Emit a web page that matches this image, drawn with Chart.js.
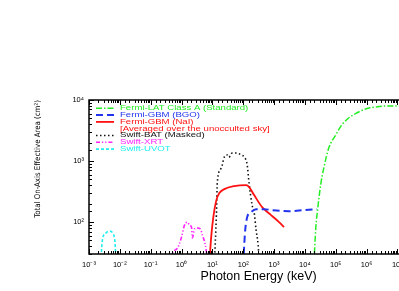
<!DOCTYPE html>
<html lang="en">
<head>
<meta charset="UTF-8">
<title>On-Axis Effective Area</title>
<script src="https://cdn.jsdelivr.net/npm/chart.js"></script>
<style>
  html, body { margin: 0; padding: 0; background: #fff; overflow: hidden; }
  #wrap { width: 440px; height: 291px; }
</style>
</head>
<body>
<div id="wrap"><canvas id="areachart" width="440" height="291"></canvas></div>
<script>
// photon energy in keV, effective area in cm^2
const latEnergy = [19500, 22600, 26200, 32800, 41000, 59400, 100000, 156000, 262000, 475000, 929000, 1950000, 4100000, 8600000, 20000000, 60000000, 100000000];
const latArea   = [20, 80, 170, 420, 767, 1633, 2667, 3890, 5070, 6120, 7110, 7670, 7970, 7970, 7800, 7400, 7100];

const bgoEnergy = [100, 108, 116, 135, 181, 262, 475, 860, 3050, 9300, 24400];
const bgoArea   = [20, 42, 74, 121, 146, 163, 163, 157, 151, 157, 163];

const naiEnergy = [8.0, 9.0, 10, 11.6, 13.5, 16.8, 24.4, 51, 125, 156, 226, 410, 800, 1450, 2100];
const naiArea   = [20, 51, 89, 157, 229, 299, 347, 389, 404, 375, 277, 176, 130, 100, 83];

const batEnergy = [11.6, 13.5, 14.5, 19.5, 24.4, 30.5, 34, 44, 64, 86, 108, 135, 156, 195, 226, 262, 305, 330];
const batArea   = [20, 130, 453, 767, 1164, 1254, 1150, 1352, 1352, 1254, 1164, 859, 420, 190, 146, 74, 42, 22];

const xrtEnergy = [0.45, 0.475, 0.74, 1.0, 1.25, 1.56, 1.81, 2.1, 2.26, 2.63, 3.28, 4.1, 4.76, 5.94, 6.9];
const xrtArea   = [22, 28, 37.5, 57, 89, 100, 89, 83, 55, 77, 80, 77, 61, 42, 25];

const uvotEnergy = [0.0024, 0.0026, 0.0028, 0.0035, 0.0047, 0.0059, 0.0066, 0.0070, 0.0075];
const uvotArea   = [22, 40, 55, 66, 71, 66, 57, 45, 22];

const legendNote = '[Averaged over the unocculted sky]';

const xMin = 1e-3, xMax = 1e8;
const yMin = 30, yMax = 1e4;

function toPoints(xs, ys) {
    return xs.map((v, i) => ({ x: v, y: ys[i] }));
}

const sup = { '-': '\u207B', '0': '\u2070', '1': '\u00B9', '2': '\u00B2', '3': '\u00B3',
              '4': '\u2074', '5': '\u2075', '6': '\u2076', '7': '\u2077', '8': '\u2078', '9': '\u2079' };

function isDecade(v) {
    const l = Math.log10(v);
    return Math.abs(l - Math.round(l)) < 1e-6;
}

function powerLabel(v) {
    if (!isDecade(v)) return '';
    const e = String(Math.round(Math.log10(v)));
    return '10' + e.split('').map(c => sup[c]).join('');
}

// inward ticks on the frame, like the original plot
const frameTicks = {
    id: 'frameTicks',
    afterDraw(chart) {
        const { ctx, chartArea: a, scales } = chart;
        ctx.save();
        ctx.strokeStyle = '#000';
        ctx.lineWidth = 1;
        ctx.beginPath();
        scales.x.ticks.forEach(t => {
            const px = Math.round(scales.x.getPixelForValue(t.value)) + 0.5;
            const len = isDecade(t.value) ? 5 : 3;
            ctx.moveTo(px, a.bottom); ctx.lineTo(px, a.bottom - len);
            ctx.moveTo(px, a.top); ctx.lineTo(px, a.top + len);
        });
        scales.y.ticks.forEach(t => {
            const py = Math.round(scales.y.getPixelForValue(t.value)) + 0.5;
            const len = isDecade(t.value) ? 5 : 3;
            ctx.moveTo(a.left, py); ctx.lineTo(a.left + len, py);
        });
        ctx.stroke();
        ctx.lineWidth = 1.5;
        ctx.strokeRect(a.left, a.top, a.right - a.left, a.bottom - a.top);
        ctx.restore();
    }
};

// legend drawn inside the plot, text in the line colour (text a bit squat, as in the original)
const insideLegend = {
    id: 'insideLegend',
    afterDraw(chart) {
        const { ctx, chartArea: a } = chart;
        const x0 = a.left + 7;
        let y = a.top + 8.3;
        const label = (txt, yy) => {
            ctx.save();
            ctx.translate(x0 + 24, yy);
            ctx.scale(1, 0.72);
            ctx.fillText(txt, 0, 0);
            ctx.restore();
        };
        ctx.save();
        ctx.font = '9.6px "Liberation Sans", Arial, sans-serif';
        ctx.textBaseline = 'middle';
        chart.data.datasets.forEach(ds => {
            ctx.strokeStyle = ds.borderColor;
            ctx.fillStyle = ds.borderColor;
            ctx.lineWidth = ds.borderWidth;
            ctx.setLineDash(ds.borderDash || []);
            ctx.beginPath();
            ctx.moveTo(x0, y); ctx.lineTo(x0 + 18, y);
            ctx.stroke();
            label(ds.label, y);
            y += 6.8;
            if (ds.note) {
                label(ds.note, y);
                y += 6.8;
            }
        });
        ctx.restore();
    }
};

const tickFont = { family: '"Liberation Sans", Arial, sans-serif', size: 7.5 };

function makeSet(label, xs, ys, color, dash, width) {
    return {
        label: label,
        data: toPoints(xs, ys),
        borderColor: color,
        borderDash: dash,
        borderWidth: width,
        pointRadius: 0,
        fill: false,
        cubicInterpolationMode: 'monotone'
    };
}

const datasets = [
    makeSet('Fermi-LAT Class A (Standard)', latEnergy, latArea, '#22ee22', [6, 2, 1.5, 2], 1.5),
    makeSet('Fermi-GBM (BGO)', bgoEnergy, bgoArea, '#2233ee', [7, 4], 2),
    Object.assign(makeSet('Fermi-GBM (NaI)', naiEnergy, naiArea, '#ff1111', [], 1.8), { note: legendNote }),
    makeSet('Swift-BAT (Masked)', batEnergy, batArea, '#111111', [1.5, 2.5], 1.6),
    makeSet('Swift-XRT', xrtEnergy, xrtArea, '#ff22ff', [4, 2, 1.2, 2, 1.2, 2], 1.6),
    makeSet('Swift-UVOT', uvotEnergy, uvotArea, '#22eeee', [3, 2], 1.6)
];

const ctx = document.getElementById('areachart').getContext('2d');
new Chart(ctx, {
    type: 'line',
    data: { datasets: datasets },
    options: {
        responsive: false,
        animation: false,
        layout: { padding: { top: 100, left: 0, right: 10, bottom: 7 } },
        plugins: {
            legend: { display: false },
            tooltip: { enabled: false }
        },
        scales: {
            x: {
                type: 'logarithmic',
                min: xMin,
                max: xMax,
                grid: { display: false, drawTicks: false },
                border: { display: false },
                afterFit(scale) { scale.height = 30; },
                ticks: {
                    autoSkip: false,
                    maxRotation: 0,
                    minRotation: 0,
                    padding: 6,
                    color: '#000',
                    font: tickFont,
                    callback: v => powerLabel(v)
                },
                title: {
                    display: true,
                    text: 'Photon Energy (keV)',
                    color: '#000',
                    font: { family: '"Liberation Sans", Arial, sans-serif', size: 12.5 },
                    padding: { top: 0, bottom: 0 }
                }
            },
            y: {
                type: 'logarithmic',
                min: yMin,
                max: yMax,
                grid: { display: false, drawTicks: false },
                border: { display: false },
                afterFit(scale) { scale.width = 89; },
                ticks: {
                    autoSkip: false,
                    padding: 5,
                    color: '#000',
                    font: tickFont,
                    callback: v => powerLabel(v)
                },
                title: {
                    display: true,
                    text: 'Total On-Axis Effective Area (cm\u00B2)',
                    align: 'end',
                    color: '#000',
                    font: { family: '"Liberation Sans Narrow", "DejaVu Sans Condensed", sans-serif', size: 7.8 },
                    padding: { top: 33, bottom: 0 }
                }
            }
        }
    },
    plugins: [frameTicks, insideLegend]
});
</script>
</body>
</html>
